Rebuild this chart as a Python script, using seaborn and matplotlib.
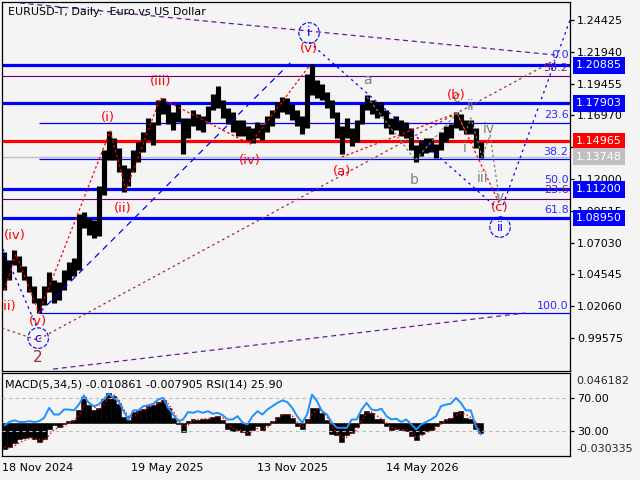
import numpy as np
import pandas as pd
import matplotlib
matplotlib.use("Agg")
import matplotlib.pyplot as plt
import seaborn as sns
from matplotlib.transforms import blended_transform_factory as blend

# ---------------- data (weekly bars) ----------------
start_date = "2024-11-18"
tick_dates = ["2024-11-18", "2025-05-19", "2025-11-13", "2026-05-14"]
tick_labels = ["18 Nov 2024", "19 May 2025", "13 Nov 2025", "14 May 2026"]

high = [1.0630, 1.0567, 1.0645, 1.0598, 1.0520, 1.0442, 1.0364, 1.0270, 1.0364, 1.0473,
        1.0411, 1.0395, 1.0489, 1.0551, 1.0583, 1.0926, 1.0942, 1.0895, 1.0880, 1.1145,
        1.1427, 1.1575, 1.1520, 1.1442, 1.1309, 1.1286, 1.1427, 1.1489, 1.1567, 1.1677,
        1.1645, 1.1817, 1.1833, 1.1786, 1.1724, 1.1786, 1.1677, 1.1677, 1.1739, 1.1708,
        1.1692, 1.1771, 1.1864, 1.1927, 1.1817, 1.1755, 1.1724, 1.1661, 1.1661, 1.1614,
        1.1599, 1.1645, 1.1630, 1.1692, 1.1739, 1.1802, 1.1841, 1.1833, 1.1786, 1.1739,
        1.1692, 1.2021, 1.2099, 1.1974, 1.1942, 1.1880, 1.1817, 1.1724, 1.1614, 1.1677,
        1.1599, 1.1661, 1.1786, 1.1856, 1.1817, 1.1802, 1.1802, 1.1739, 1.1677, 1.1692,
        1.1661, 1.1645, 1.1599, 1.1466, 1.1505, 1.1520, 1.1520, 1.1473, 1.1567, 1.1614,
        1.1630, 1.1724, 1.1708, 1.1661, 1.1661, 1.1599, 1.1489]
low = [1.0333, 1.0411, 1.0528, 1.0473, 1.0411, 1.0317, 1.0231, 1.0153, 1.0215, 1.0317,
       1.0231, 1.0254, 1.0333, 1.0411, 1.0442, 1.0489, 1.0817, 1.0762, 1.0739, 1.0755,
       1.1075, 1.1348, 1.1348, 1.1255, 1.1098, 1.1145, 1.1255, 1.1333, 1.1411, 1.1505,
       1.1466, 1.1622, 1.1708, 1.1630, 1.1583, 1.1645, 1.1395, 1.1520, 1.1614, 1.1583,
       1.1567, 1.1645, 1.1739, 1.1755, 1.1677, 1.1630, 1.1567, 1.1536, 1.1536, 1.1505,
       1.1481, 1.1520, 1.1505, 1.1567, 1.1614, 1.1677, 1.1724, 1.1708, 1.1661, 1.1614,
       1.1552, 1.1599, 1.1856, 1.1833, 1.1817, 1.1755, 1.1677, 1.1520, 1.1395, 1.1520,
       1.1458, 1.1489, 1.1630, 1.1739, 1.1708, 1.1677, 1.1692, 1.1599, 1.1552, 1.1583,
       1.1536, 1.1520, 1.1427, 1.1333, 1.1380, 1.1403, 1.1411, 1.1364, 1.1427, 1.1489,
       1.1520, 1.1599, 1.1583, 1.1552, 1.1552, 1.1442, 1.1364]

macd_main = [-0.024, -0.022, -0.018, -0.015, -0.014, -0.013, -0.015, -0.017, -0.015, -0.005,
             -0.002, -0.004, -0.001, 0.002, 0.003, 0.012, 0.024, 0.017, 0.012, 0.014,
             0.022, 0.028, 0.025, 0.018, 0.006, 0.003, 0.010, 0.012, 0.013, 0.016,
             0.017, 0.019, 0.021, 0.014, 0.005, -0.001, -0.008, 0.002, 0.004, 0.003,
             0.004, 0.004, 0.006, 0.007, 0.003, -0.005, -0.007, -0.006, -0.008, -0.011,
             -0.006, -0.003, -0.006, -0.002, 0.002, 0.006, 0.008, 0.008, 0.005, -0.003,
             -0.005, 0.004, 0.014, 0.014, 0.009, 0.003, -0.010, -0.011, -0.017, -0.011,
             -0.009, -0.004, 0.008, 0.011, 0.009, 0.004, 0.004, -0.003, -0.006, -0.005,
             -0.006, -0.007, -0.012, -0.016, -0.010, -0.007, -0.006, -0.003, 0.002, 0.004,
             0.005, 0.010, 0.011, 0.005, 0.004, -0.005, -0.009]
macd_signal = [-0.022, -0.023, -0.021, -0.018, -0.016, -0.014, -0.014, -0.015, -0.016, -0.011,
               -0.006, -0.004, -0.003, 0.000, 0.002, 0.007, 0.016, 0.019, 0.015, 0.013,
               0.017, 0.024, 0.026, 0.022, 0.013, 0.006, 0.006, 0.010, 0.012, 0.014,
               0.016, 0.018, 0.020, 0.018, 0.011, 0.003, -0.003, -0.002, 0.002, 0.003,
               0.004, 0.004, 0.005, 0.006, 0.005, 0.000, -0.005, -0.006, -0.007, -0.009,
               -0.008, -0.005, -0.005, -0.004, 0.000, 0.004, 0.007, 0.008, 0.007, 0.001,
               -0.003, 0.000, 0.008, 0.013, 0.012, 0.006, -0.003, -0.009, -0.013, -0.013,
               -0.010, -0.006, 0.002, 0.009, 0.010, 0.007, 0.004, 0.000, -0.004, -0.005,
               -0.006, -0.006, -0.009, -0.013, -0.012, -0.009, -0.007, -0.005, -0.001, 0.002,
               0.004, 0.007, 0.009, 0.008, 0.005, 0.001, -0.0079]
rsi = [37, 41, 43, 41, 41, 42, 41, 42, 46, 58,
       50, 50, 56, 56, 55, 62, 73, 64, 60, 62,
       68, 75, 70, 66, 54, 44, 55, 55, 60, 61,
       63, 68, 70, 58, 50, 42, 44, 53, 52, 54,
       52, 54, 51, 52, 49, 44, 44, 48, 40, 38,
       48, 54, 50, 56, 60, 64, 67, 65, 58, 48,
       40, 50, 74, 66, 54, 50, 40, 34, 34, 34,
       44, 44, 56, 64, 56, 55, 57, 48, 44, 45,
       41, 44, 38, 32, 38, 41, 44, 48, 60, 62,
       63, 70, 64, 55, 55, 36, 25.9]

price_ticks = [1.24425, 1.21940, 1.19455, 1.16970, 1.14485, 1.12000,
               1.09515, 1.07030, 1.04545, 1.02060, 0.99575]
hidden_ticks = [1.14485]
thick_blue_levels = [1.20885, 1.17903, 1.11200, 1.08950]
red_level = 1.14965
bid_level = 1.13748
purple_levels = [1.2005, 1.1044]
fib_thin_levels = [1.1638, 1.1356, 1.0153]
fib_labels = [("0.0", 1.2169, "blue"), ("38.2", 1.2067, "purple"), ("23.6", 1.1700, "blue"),
              ("38.2", 1.1411, "blue"), ("50.0", 1.1192, "blue"), ("23.6", 1.1114, "purple"),
              ("61.8", 1.0958, "blue"), ("100.0", 1.0207, "blue")]
price_boxes = [(1.20885, "#0000ff"), (1.17903, "#0000ff"), (1.14965, "#ff0000"),
               (1.13748, "#c0c0c0"), (1.11200, "#0000ff"), (1.08950, "#0000ff")]

# wave labels (week position, price)
red_labels = [("(i)", 21.4, 1.1677), ("(ii)", 24.4, 1.0966), ("(iii)", 31.9, 1.1958),
              ("(iv)", 50.0, 1.1341), ("(v)", 61.9, 1.2216), ("(iv)", 2.6, 1.0755),
              ("(v)", 7.3, 1.0090), ("(a)", 68.5, 1.1255), ("(b)", 91.5, 1.1856),
              ("(c)", 100.4, 1.0981)]
gray_labels = [("c", 91.6, 1.1830), ("a", 73.6, 1.1974), ("b", 83.1, 1.1192),
               ("i", 93.3, 1.1442), ("ii", 94.4, 1.1770), ("iii", 96.8, 1.1208),
               ("iv", 98.2, 1.1591), ("v", 100.4, 1.1059)]
circle_labels = [("i", 61.9, 1.2341), ("ii", 100.4, 1.0825), ("c", 7.3, 0.9957)]

# trend / wave lines: (x list in weeks, price list)
line_purple_top = ([3.6, 111.5], [1.2575, 1.2169])
line_purple_bot = ([10.3, 105.4], [0.9715, 1.0153])
line_brown = ([0.0, 7.1, 111.5], [1.0036, 0.9942, 1.2130])
line_blue_up = ([7.46, 58.1], [1.0153, 1.2107])
line_blue_down = ([61.9, 99.8], [1.2270, 1.0973])
line_blue_left = ([0.2, 7.1], [1.0653, 1.0036])
line_blue_final = ([101.0, 114.5], [1.0997, 1.2442])
line_red_left = ([0.5, 2.8, 7.46], [1.0333, 1.0614, 1.0153])
line_red_impulse = ([7.46, 21.8, 25.0, 31.9, 50.0, 62.1], [1.0153, 1.1575, 1.1114, 1.1833, 1.1473, 1.2091])
line_red_abc = ([68.5, 91.7, 100.4], [1.1372, 1.1716, 1.0997])
line_gray_ab = ([73.6, 83.3, 91.7], [1.1841, 1.1348, 1.1716])
line_gray_sub = ([91.7, 93.5, 94.5, 96.8, 98.4, 100.4], [1.1716, 1.1567, 1.1677, 1.1372, 1.1544, 1.0997])

# ---------------- figure ----------------
sns.set_theme(style="white")
plt.rcParams['font.family'] = ['DejaVu Sans']
BG = "#f4f4f4"

fig = plt.figure(figsize=(6.4, 4.8), dpi=100, facecolor=BG)
ax = fig.add_axes([2 / 640, 1 - 371 / 480, 568 / 640, 369 / 480])
axs = fig.add_axes([2 / 640, 1 - 456 / 480, 568 / 640, 83 / 480])

t0 = pd.Timestamp(start_date)
xpos = np.arange(len(high)) + 0.5
tick_pos = [(pd.Timestamp(d) - t0).days / 7 for d in tick_dates]

for a in (ax, axs):
    a.set_facecolor(BG)
    for s in a.spines.values():
        s.set_color("black")
        s.set_linewidth(0.9)
    a.set_xlim(0, 114.5)

# main price panel
ax.set_ylim(0.9700, 1.2583)
ax.yaxis.tick_right()
ax.set_yticks(price_ticks)
ax.set_yticklabels(["" if v in hidden_ticks else f"{v:.5f}" for v in price_ticks], fontsize=8)
ax.tick_params(axis="y", direction="out", length=3, width=0.9, pad=2, colors="black")
ax.set_xticks([])

for lv in thick_blue_levels:
    ax.axhline(lv, color="#0000ff", lw=2.3, zorder=2)
ax.axhline(red_level, color="#ff0000", lw=2.3, zorder=2)
ax.axhline(bid_level, color="#c0c0c0", lw=1.0, zorder=1)
for lv in purple_levels:
    ax.axhline(lv, color="#660066", lw=0.8, zorder=1)
for lv in fib_thin_levels:
    ax.hlines(lv, 7.46, 114.5, color="#0000ff", lw=0.9, zorder=2)

# bars
ax.vlines(xpos, low, high, color="black", lw=3.7, zorder=4)

# lines
def dline(data, color, ls, lw=0.9, z=5):
    ax.plot(data[0], data[1], color=color, ls=ls, lw=lw, zorder=z)

dline(line_purple_top, "#6a1b9a", (0, (4, 3)))
dline(line_purple_bot, "#6a1b9a", (0, (4, 3)))
dline(line_brown, "#a03030", (0, (2, 2.5)))
dline(line_blue_up, "#0000ff", (0, (5, 4)))
dline(line_blue_down, "#0000ff", (0, (2, 3)))
dline(line_blue_left, "#0000ff", (0, (2, 3)))
dline(line_blue_final, "#0000ff", (0, (2, 3)))
dline(line_red_left, "#ff0000", (0, (2, 2)))
dline(line_red_impulse, "#ff0000", (0, (2, 2)))
dline(line_red_abc, "#ff0000", (0, (2, 2)))
dline(line_gray_ab, "#808080", (0, (2, 2)))
dline(line_gray_sub, "#808080", (0, (2, 2)))

# labels
for t, x, y in gray_labels:
    ax.text(x, y, t, color="#808080", fontsize=10, ha="center", va="center", zorder=6)
for t, x, y in red_labels:
    ax.text(x, y, t, color="#ff0000", fontsize=9.5, ha="center", va="center", zorder=7,
            clip_on=True)
ax.text(1.1, 1.0207, "(ii)", color="#ff0000", fontsize=9.5, ha="center", va="center",
        zorder=7, clip_on=True)
ax.text(7.1, 0.9809, "2", color="#a52a2a", fontsize=11, ha="center", va="center", zorder=7)
for t, x, y in circle_labels:
    ax.text(x, y, t, color="#0000ff", fontsize=9, ha="center", va="center", zorder=7,
            bbox=dict(boxstyle="circle,pad=0.3", fc="none", ec="#0000ff", ls="--", lw=0.8))
for t, y, c in fib_labels:
    col = "#2a2aff" if c == "blue" else "#6a1b9a"
    ax.text(114.2, y, t, color=col, fontsize=8, ha="right", va="center", zorder=7)

ax.text(0.0106, 0.973, "EURUSD-T, Daily:  Euro vs US Dollar", transform=ax.transAxes,
        fontsize=8, ha="left", va="center", color="black", zorder=8)

bt = blend(ax.transAxes, ax.transData)
for lv, c in price_boxes:
    ax.text(1.0106, lv, f"{lv:.5f}", transform=bt, fontsize=8, color="white",
            ha="left", va="center", clip_on=False, zorder=10,
            bbox=dict(boxstyle="square,pad=0.3", fc=c, ec="none"))

# indicator panel: MACD histogram + signal, RSI on twin
axs.set_ylim(-0.030335, 0.046182)
axs.bar(xpos, macd_main, width=1.0, color="black", edgecolor="black", linewidth=0.4, zorder=2)
sns.lineplot(x=xpos, y=macd_signal, ax=axs, color="#ff0000", lw=1.0, ls=":", zorder=3)
axs.set_yticks([])
axs.set_ylabel("")
axs.set_xticks(tick_pos)
axs.set_xticklabels(tick_labels, fontsize=8)
for lbl in axs.get_xticklabels():
    lbl.set_horizontalalignment("left")
axs.tick_params(axis="x", direction="out", length=4, width=0.9, pad=1, colors="black")

axr = axs.twinx()
axr.set_ylim(0, 100)
axr.set_facecolor("none")
for s in axr.spines.values():
    s.set_visible(False)
axr.axhline(70, color="#b8b8b8", lw=0.8, ls=(0, (3, 3)), zorder=1)
axr.axhline(30, color="#b8b8b8", lw=0.8, ls=(0, (3, 3)), zorder=1)
sns.lineplot(x=xpos, y=rsi, ax=axr, color="#1e90ff", lw=1.4, zorder=4)
axr.set_yticks([30, 70])
axr.set_yticklabels(["30.00", "70.00"], fontsize=8)
axr.set_ylabel("")
axr.tick_params(axis="y", direction="out", length=3, width=0.9, pad=2, colors="black")
axr.text(1.0106, 0.90, "0.046182", transform=axr.transAxes, fontsize=8, ha="left", va="center")
axr.text(1.0106, 0.08, "-0.030335", transform=axr.transAxes, fontsize=8, ha="left", va="center")
axr.text(0.006, 0.86, "MACD(5,34,5) -0.010861 -0.007905 RSI(14) 25.90", transform=axr.transAxes,
         fontsize=8, ha="left", va="center", color="black")

fig.savefig("out.png", dpi=100, facecolor=BG)
